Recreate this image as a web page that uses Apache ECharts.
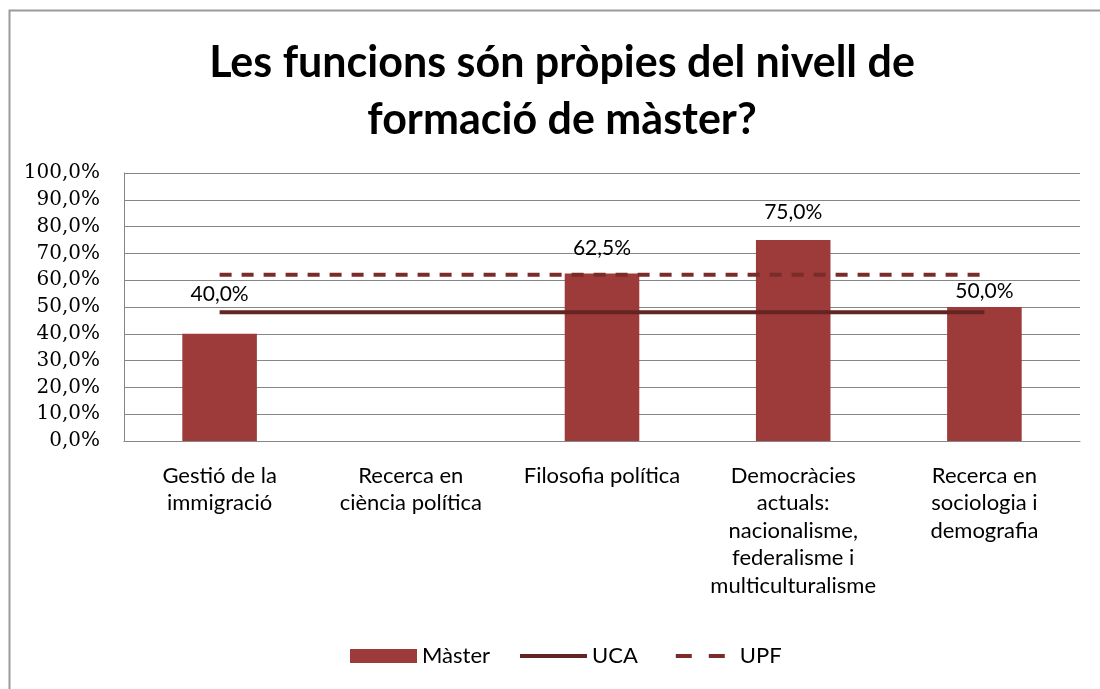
<!DOCTYPE html>
<html>
<head>
<meta charset="utf-8">
<script src="https://cdn.jsdelivr.net/npm/echarts@6/dist/echarts.min.js"></script>
<style>html,body{margin:0;padding:0;background:#fff}#c{width:1100px;height:689px}</style>
</head>
<body>
<div id="c"></div>
<script>
var titleText = 'Les funcions són pròpies del nivell de\nformació de màster?';
var categories = [
  'Gestió de la\nimmigració',
  'Recerca en\nciència política',
  'Filosofia política',
  'Democràcies\nactuals:\nnacionalisme,\nfederalisme i\nmulticulturalisme',
  'Recerca en\nsociologia i\ndemografia'
];
var masterValues = [40.0, null, 62.5, 75.0, 50.0];
var ucaValues = [48, 48, 48, 48, 48];
var upfValues = [62, 62, 62, 62, 62];
var yTicks = [0, 10, 20, 30, 40, 50, 60, 70, 80, 90, 100];

// label placement (style only, as in the original chart's manual label positions)
var labelDistances = [29, 0, 15, 17, 5];

function pct(v) { return v.toFixed(1).replace('.', ',') + '%'; }

var barData = masterValues.map(function (v, i) {
  return {value: v, label: {distance: labelDistances[i]}};
});

var chart = echarts.init(document.getElementById('c'), null, {renderer: 'canvas'});
var sans = 'Lato, "Open Sans", sans-serif';
chart.setOption({
  animation: false,
  backgroundColor: '#fff',
  graphic: [{
    type: 'rect', left: 7, top: 8, shape: {x: 0, y: 0, width: 1200, height: 800},
    style: {fill: 'none', stroke: '#9a9a9a', lineWidth: 2}, silent: true, z: -1
  }],
  title: {
    text: titleText, left: 557, top: 30, textAlign: 'center',
    textStyle: {fontFamily: sans, fontWeight: 'bold', fontSize: 43, lineHeight: 57, color: '#000'}
  },
  grid: {left: 124, right: 20, top: 173, bottom: 248, containLabel: false},
  legend: {
    bottom: 17, left: 345, itemWidth: 67, itemHeight: 14, itemGap: 28,
    textStyle: {fontFamily: sans, fontSize: 22, color: '#000'},
    data: [
      {name: 'Màster', icon: 'rect'},
      {name: 'UCA', itemStyle: {opacity: 0}, lineStyle: {width: 4}},
      {name: 'UPF', itemStyle: {opacity: 0}, lineStyle: {width: 4, type: [16, 17], dashOffset: 25}}
    ]
  },
  xAxis: {
    type: 'category', data: categories,
    axisLine: {lineStyle: {color: '#868686', width: 1}},
    axisTick: {show: false},
    axisLabel: {interval: 0, margin: 21, fontFamily: sans, fontSize: 22, lineHeight: 27.5, color: '#000'}
  },
  yAxis: {
    type: 'value', min: yTicks[0], max: yTicks[yTicks.length - 1], interval: 10,
    axisLine: {show: true, lineStyle: {color: '#868686', width: 1}},
    axisTick: {show: false},
    splitLine: {lineStyle: {color: '#868686', width: 1}},
    axisLabel: {margin: 24, formatter: function (v) { return pct(v); }, fontFamily: '"DejaVu Serif", "Liberation Serif", serif', fontSize: 20, color: '#000'}
  },
  series: [
    {
      name: 'Màster', type: 'bar', data: barData, barWidth: '39%',
      itemStyle: {color: '#9c3b39'},
      label: {show: true, position: 'top', formatter: function (p) { return pct(p.value); },
        fontFamily: sans, fontSize: 21, color: '#000'}
    },
    {
      name: 'UCA', type: 'line', data: ucaValues, symbol: 'none', z: 3,
      lineStyle: {color: '#632523', width: 4}, itemStyle: {color: '#632523'}
    },
    {
      name: 'UPF', type: 'line', data: upfValues, symbol: 'none', z: 3,
      lineStyle: {color: '#7a2c2a', width: 4, type: [12, 10]}, itemStyle: {color: '#7a2c2a'}
    }
  ]
});
</script>
</body>
</html>
